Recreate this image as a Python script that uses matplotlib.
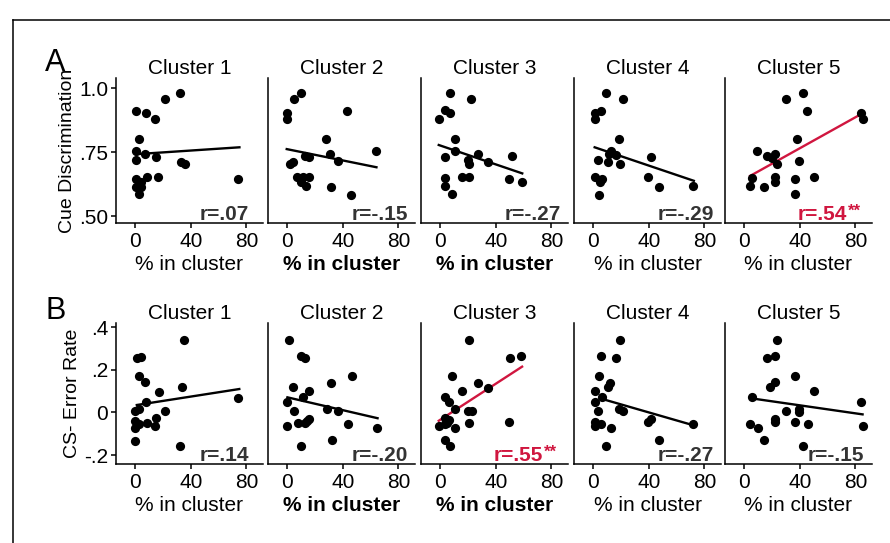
import matplotlib
matplotlib.use('Agg')
import matplotlib.pyplot as plt
from matplotlib.lines import Line2D

plt.rcParams['font.family'] = ['Liberation Sans', 'DejaVu Sans']

# ---------------- data ----------------
clusters = ["Cluster 1", "Cluster 2", "Cluster 3", "Cluster 4", "Cluster 5"]
x_ticks = [0, 40, 80]
a_yticks = [0.50, 0.75, 1.0]
a_yticklabels = [".50", ".75", "1.0"]
b_yticks = [-0.2, 0.0, 0.2, 0.4]
b_yticklabels = ["-.2", "0", ".2", ".4"]

A1_x = [0.2, 7.8, 14.1, 21, 32.2, 2.4, 0.2, 0.2, 6.6, 14.9, 32.9, 35.4, 74, 0.2, 4, 8.3, 16.6, 0.2, 4, 2.4]
A1_y = [0.912, 0.902, 0.88, 0.957, 0.983, 0.80, 0.755, 0.72, 0.742, 0.732, 0.713, 0.704, 0.647, 0.647, 0.634, 0.654, 0.651, 0.615, 0.615, 0.585]
A2_x = [9.5, 4.8, -0.5, -0.5, 43, 28, 63.7, 30.7, 36.3, 12.7, 15.7, 1.8, 4.2, 7.2, 11, 15.7, 9.5, 13.4, 31.6, 45.7]
A2_y = [0.983, 0.957, 0.902, 0.879, 0.911, 0.80, 0.753, 0.742, 0.717, 0.736, 0.732, 0.702, 0.711, 0.654, 0.651, 0.651, 0.634, 0.619, 0.615, 0.584]
A3_x = [6.9, 22, 3.1, 6.9, -1.2, 10.7, 10.7, 3.6, 27.4, 19.6, 20.8, 34.2, 51.3, 3.3, 3.3, 8.4, 15.3, 20.3, 49.7, 59]
A3_y = [0.983, 0.957, 0.913, 0.902, 0.880, 0.80, 0.753, 0.732, 0.742, 0.719, 0.702, 0.713, 0.736, 0.649, 0.617, 0.585, 0.654, 0.654, 0.645, 0.634]
A4_x = [8.9, 21.3, 5.6, 0.9, 0.9, 18.2, 12.9, 11.2, 16.6, 3.3, 10.3, 18.9, 41.6, 0.9, 6.5, 4.9, 39.3, 47.4, 71.5, 4.2]
A4_y = [0.983, 0.957, 0.911, 0.902, 0.879, 0.80, 0.753, 0.742, 0.738, 0.719, 0.713, 0.702, 0.732, 0.651, 0.647, 0.632, 0.654, 0.615, 0.619, 0.584]
A5_x = [42.3, 29.8, 45.3, 84, 85.2, 38.2, 9.3, 16.5, 22, 19.6, 23.2, 39.1, 5.3, 4.1, 14.1, 22.4, 22, 36.8, 50.4, 36.8]
A5_y = [0.983, 0.957, 0.911, 0.902, 0.879, 0.80, 0.755, 0.736, 0.742, 0.726, 0.702, 0.717, 0.648, 0.619, 0.615, 0.654, 0.634, 0.645, 0.651, 0.585]

B1_x = [1, 3.7, 35, 2.4, 6.6, 17, 33.4, 74, 7.8, 0, 2.9, 21.2, 0, 2.9, 0, 8.5, 14.6, 14.4, 0, 32.2]
B1_y = [0.258, 0.262, 0.341, 0.173, 0.141, 0.097, 0.118, 0.069, 0.05, 0.008, 0.016, 0.008, -0.041, -0.052, -0.071, -0.049, -0.028, -0.064, -0.134, -0.159]
B2_x = [1.4, 9.6, 12.9, 46.3, 31.1, 3.7, 15.9, 11.2, 0, 4.9, 28.3, 36.4, 0, 7.7, 12.4, 14, 15.9, 43.5, 64.5, 32, 9.6]
B2_y = [0.341, 0.266, 0.256, 0.173, 0.14, 0.118, 0.101, 0.071, 0.049, 0.008, 0.014, 0.006, -0.063, -0.049, -0.049, -0.039, -0.030, -0.055, -0.072, -0.13, -0.157]
B3_x = [20.8, 50.3, 57.9, 8.4, 27.4, 34.1, 15.3, 3.3, 6.4, 10.7, 19.6, 22.7, 3.3, 5.9, -1.2, 3.3, 4.8, 10.7, 20.3, 49.6, 3.3, 6.9]
B3_y = [0.341, 0.258, 0.263, 0.173, 0.14, 0.116, 0.101, 0.071, 0.05, 0.014, 0.008, 0.008, -0.028, -0.036, -0.063, -0.055, -0.049, -0.072, -0.049, -0.044, -0.13, -0.157]
B4_x = [18.9, 5.4, 16.6, 4.2, 11.7, 10.3, 1.2, 6.5, 1.2, 3, 18.2, 21.3, 1.2, 1.2, 5.4, 12.9, 39.7, 41.6, 71.5, 47.4, 8.9]
B4_y = [0.341, 0.263, 0.256, 0.171, 0.14, 0.118, 0.101, 0.071, 0.05, 0.006, 0.014, 0.008, -0.044, -0.063, -0.055, -0.072, -0.047, -0.033, -0.052, -0.13, -0.157]
B5_x = [23.2, 16.5, 22, 36.8, 22, 18.4, 50.4, 5.3, 84, 29.8, 39.1, 39.1, 22.4, 22.4, 36.8, 45.6, 4.1, 9.5, 85.2, 14.1, 42.2]
B5_y = [0.341, 0.255, 0.263, 0.173, 0.145, 0.118, 0.101, 0.071, 0.047, 0.008, 0.014, 0.003, -0.031, -0.047, -0.044, -0.055, -0.052, -0.072, -0.063, -0.13, -0.157]

# regression line endpoints (x0, x1), (y0, y1)
A_fit_x = [(0.2, 75), (-0.5, 64.2), (-1.2, 59), (0.9, 72.4), (4.1, 85.2)]
A_fit_y = [(0.742, 0.769), (0.762, 0.691), (0.778, 0.667), (0.769, 0.638), (0.657, 0.902)]
B_fit_x = [(1, 74.9), (0, 65), (-1.2, 58.9), (6.5, 72), (5.3, 85.2)]
B_fit_y = [(0.035, 0.11), (0.071, -0.027), (-0.039, 0.215), (0.063, -0.06), (0.066, -0.009)]

A_r = [".07", "-.15", "-.27", "-.29", ".54"]
B_r = [".14", "-.20", ".55", "-.27", "-.15"]
A_sig = [False, False, False, False, True]
B_sig = [False, False, True, False, False]

rows = [
    dict(xs=[A1_x, A2_x, A3_x, A4_x, A5_x], ys=[A1_y, A2_y, A3_y, A4_y, A5_y],
         fx=A_fit_x, fy=A_fit_y, r=A_r, sig=A_sig, ylim=(0.473, 1.04),
         yticks=a_yticks, yticklabels=a_yticklabels, ylabel="Cue Discrimination",
         letter="A", top=78, h=145, letter_base=71),
    dict(xs=[B1_x, B2_x, B3_x, B4_x, B5_x], ys=[B1_y, B2_y, B3_y, B4_y, B5_y],
         fx=B_fit_x, fy=B_fit_y, r=B_r, sig=B_sig, ylim=(-0.242, 0.42),
         yticks=b_yticks, yticklabels=b_yticklabels, ylabel="CS- Error Rate",
         letter="B", top=323, h=141, letter_base=319),
]

# ---------------- layout ----------------
W, H = 890, 543
fig = plt.figure(figsize=(W / 100, H / 100), dpi=100)
RED = '#d0163f'
GRAY = '#333333'
lefts = [116, 268, 421, 574, 725]
AW = 147
r_off = [14, 7, 7, 7, 8]

for row in rows:
    for c in range(5):
        ax = fig.add_axes([lefts[c] / W, 1 - (row['top'] + row['h']) / H, AW / W, row['h'] / H])
        sig = row['sig'][c]
        col = RED if sig else 'black'
        ax.scatter(row['xs'][c], row['ys'][c], s=44, c='black', linewidths=0, zorder=3)
        ax.plot(row['fx'][c], row['fy'][c], color=col, lw=1.7, zorder=2)
        ax.set_xlim(-14, 92)
        ax.set_ylim(*row['ylim'])
        ax.set_xticks(x_ticks)
        ax.set_xticklabels([str(v) for v in x_ticks])
        for s in ['top', 'right']:
            ax.spines[s].set_visible(False)
        for s in ['left', 'bottom']:
            ax.spines[s].set_linewidth(1.1)
        ax.tick_params(axis='both', length=3.5, width=1.1, labelsize=15, pad=2)
        ax.tick_params(axis='x', pad=3)
        if c == 0:
            ax.set_yticks(row['yticks'])
            ax.set_yticklabels(row['yticklabels'])
            ax.set_ylabel(row['ylabel'], fontsize=14, labelpad=2)
        else:
            ax.set_yticks([])
        ax.set_title(clusters[c], fontsize=15, pad=2)
        bold = c in (1, 2)
        ax.set_xlabel("% in cluster", fontsize=15, labelpad=3,
                      fontweight='bold' if bold else 'normal')
        # r-value text
        off = 25 if sig else r_off[c]
        t = ax.text(1 - off / AW, 3 / row['h'], "r=" + row['r'][c], transform=ax.transAxes,
                    ha='right', va='baseline', fontsize=15, fontweight='bold',
                    color=RED if sig else GRAY)
        if sig:
            ax.annotate("**", xy=(1, 1), xycoords=t, xytext=(0.5, 1), textcoords='offset points',
                        ha='left', va='top', fontsize=12, fontweight='bold', color=RED)
    fig.text(45 / W, 1 - row['letter_base'] / H, row['letter'], fontsize=22, va='baseline', ha='left')

# partial frame
fig.add_artist(Line2D([13 / W, 13 / W], [0, 1 - 20 / H], color='black', lw=1.1, transform=fig.transFigure))
fig.add_artist(Line2D([13 / W, 1], [1 - 20 / H, 1 - 20 / H], color='black', lw=1.1, transform=fig.transFigure))

fig.savefig('out.png', dpi=100)
